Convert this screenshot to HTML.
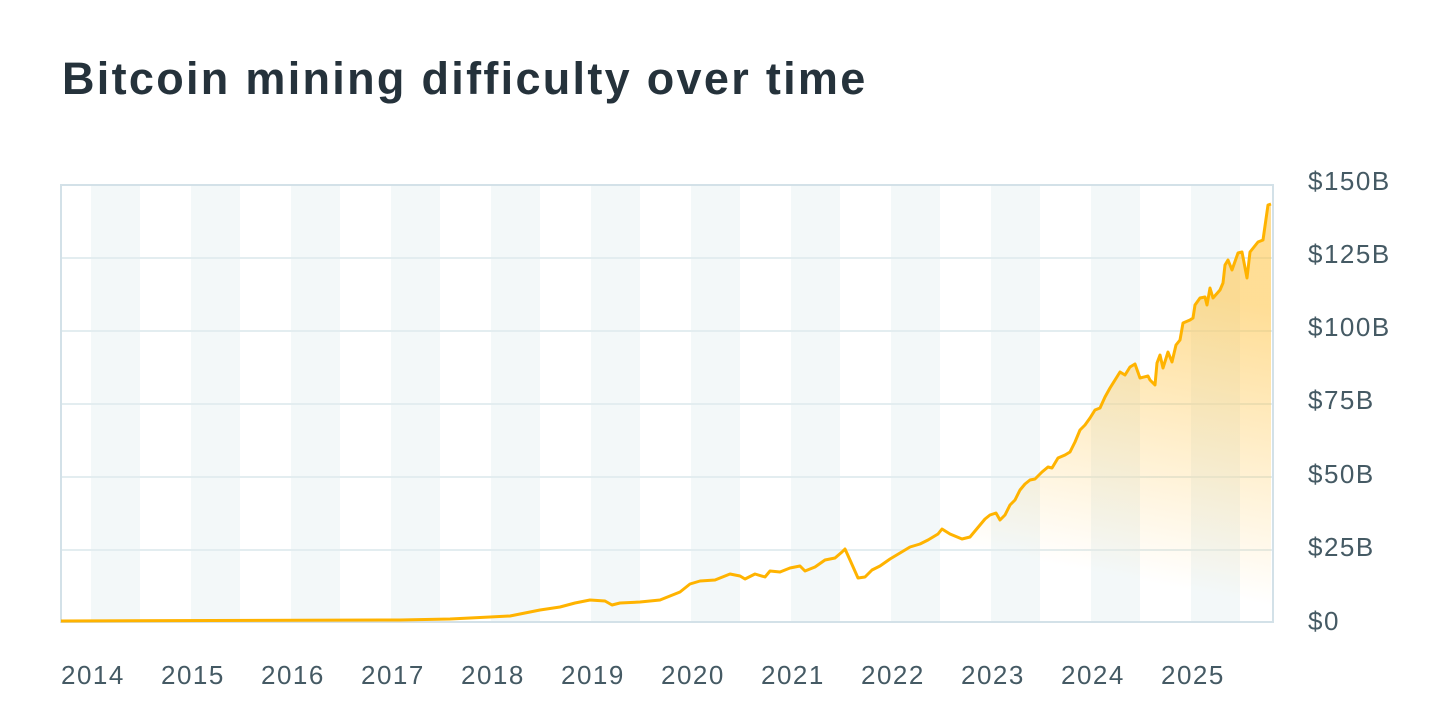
<!DOCTYPE html>
<html><head><meta charset="utf-8"><style>
html,body{margin:0;padding:0;background:#fff;}
body{width:1450px;height:723px;overflow:hidden;position:relative;font-family:"Liberation Sans",sans-serif;}
h1{position:absolute;left:62px;top:53px;margin:0;font-size:45px;font-weight:bold;color:#25323b;letter-spacing:2.3px;}
</style></head><body>
<h1>Bitcoin mining difficulty over time</h1>
<svg width="1450" height="723" style="position:absolute;left:0;top:0">
<defs>
<linearGradient id="g" x1="0" y1="1" x2="0.55" y2="0">
<stop offset="0.45" stop-color="#ffc240" stop-opacity="0"/>
<stop offset="1" stop-color="#ffc240" stop-opacity="0.55"/>
</linearGradient>
</defs>
<g fill="#f3f8f9">
<rect x="91" y="186" width="49" height="436"/><rect x="191" y="186" width="49" height="436"/><rect x="291" y="186" width="49" height="436"/><rect x="391" y="186" width="49" height="436"/><rect x="491" y="186" width="49" height="436"/><rect x="591" y="186" width="49" height="436"/><rect x="691" y="186" width="49" height="436"/><rect x="791" y="186" width="49" height="436"/><rect x="891" y="186" width="49" height="436"/><rect x="991" y="186" width="49" height="436"/><rect x="1091" y="186" width="49" height="436"/><rect x="1191" y="186" width="49" height="436"/>
</g>
<g stroke="#e3edf0" stroke-width="2">
<line x1="61" x2="1273" y1="258" y2="258"/><line x1="61" x2="1273" y1="331" y2="331"/><line x1="61" x2="1273" y1="404" y2="404"/><line x1="61" x2="1273" y1="477" y2="477"/><line x1="61" x2="1273" y1="550" y2="550"/>
</g>
<rect x="61" y="185" width="1212" height="437" fill="none" stroke="#d3e1e8" stroke-width="2"/>
<path id="p" d="M61,621 L400,620 450,619 490,617 510,616 525,613 540,610 560,607 575,603 590,600 605,601 612,605 620,603 640,602 660,600 670,596 680,592 690,584 700,581 715,580 730,574 740,576 745,579 755,574 765,577 770,571 780,572 790,568 800,566 805,571 815,567 825,560 835,558 842,552 845,549 850,560 858,578 865,577 872,570 880,566 890,559 900,553 910,547 920,544 928,540 938,534 942,529 950,534 962,539 970,537 980,525 985,519 990,515 996,513 1000,520 1005,515 1010,505 1015,500 1020,490 1025,484 1030,480 1035,479 1042,472 1048,467 1052,468 1058,458 1065,455 1070,452 1075,442 1080,430 1085,425 1090,418 1095,410 1100,408 1105,397 1110,388 1115,380 1120,372 1125,375 1130,367 1135,364 1140,378 1148,376 1150,380 1155,385 1157,363 1160,355 1163,368 1168,352 1172,362 1176,345 1180,340 1183,323 1190,320 1193,318 1195,305 1200,298 1205,297 1207,305 1210,288 1213,298 1220,290 1223,283 1225,265 1228,260 1232,270 1238,253 1242,252 1247,278 1250,252 1258,242 1263,240 1268,205 1271,204" fill="none"/>
<path d="M61,621 L400,620 450,619 490,617 510,616 525,613 540,610 560,607 575,603 590,600 605,601 612,605 620,603 640,602 660,600 670,596 680,592 690,584 700,581 715,580 730,574 740,576 745,579 755,574 765,577 770,571 780,572 790,568 800,566 805,571 815,567 825,560 835,558 842,552 845,549 850,560 858,578 865,577 872,570 880,566 890,559 900,553 910,547 920,544 928,540 938,534 942,529 950,534 962,539 970,537 980,525 985,519 990,515 996,513 1000,520 1005,515 1010,505 1015,500 1020,490 1025,484 1030,480 1035,479 1042,472 1048,467 1052,468 1058,458 1065,455 1070,452 1075,442 1080,430 1085,425 1090,418 1095,410 1100,408 1105,397 1110,388 1115,380 1120,372 1125,375 1130,367 1135,364 1140,378 1148,376 1150,380 1155,385 1157,363 1160,355 1163,368 1168,352 1172,362 1176,345 1180,340 1183,323 1190,320 1193,318 1195,305 1200,298 1205,297 1207,305 1210,288 1213,298 1220,290 1223,283 1225,265 1228,260 1232,270 1238,253 1242,252 1247,278 1250,252 1258,242 1263,240 1268,205 1271,204 L1271,621 Z" fill="url(#g)"/>
<use href="#p" stroke="#ffb300" stroke-width="3" stroke-linejoin="round"/>
<g font-size="26" fill="#455a64" font-family="Liberation Sans, sans-serif" letter-spacing="1.5">
<text x="1308" y="190">$150B</text><text x="1308" y="263">$125B</text><text x="1308" y="336">$100B</text><text x="1308" y="409">$75B</text><text x="1308" y="483">$50B</text><text x="1308" y="556">$25B</text><text x="1308" y="630">$0</text>
<text x="61" y="684">2014</text><text x="161" y="684">2015</text><text x="261" y="684">2016</text><text x="361" y="684">2017</text><text x="461" y="684">2018</text><text x="561" y="684">2019</text><text x="661" y="684">2020</text><text x="761" y="684">2021</text><text x="861" y="684">2022</text><text x="961" y="684">2023</text><text x="1061" y="684">2024</text><text x="1161" y="684">2025</text>
</g>
</svg>
</body></html>
